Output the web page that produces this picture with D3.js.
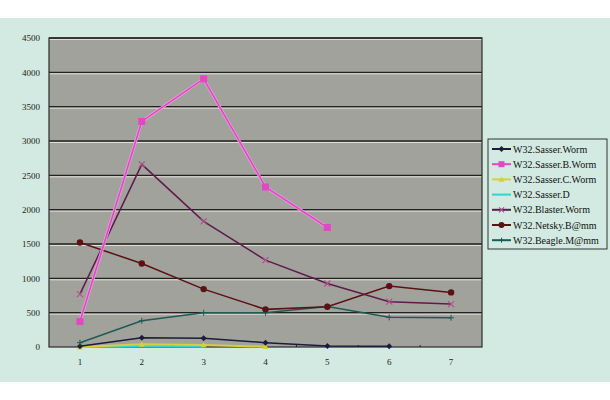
<!DOCTYPE html>
<html><head><meta charset="utf-8">
<script src="https://cdn.jsdelivr.net/npm/d3@7"></script>
<style>
html,body{margin:0;padding:0;background:#fff;}
svg{display:block;}
text{font-family:"Liberation Serif","DejaVu Serif",serif;}
</style></head>
<body>
<svg id="c" width="610" height="400"></svg>
<script>
const categories = ["1","2","3","4","5","6","7"];
const yTicks = [0,500,1000,1500,2000,2500,3000,3500,4000,4500];
const seriesNames = ["W32.Sasser.Worm","W32.Sasser.B.Worm","W32.Sasser.C.Worm","W32.Sasser.D","W32.Blaster.Worm","W32.Netsky.B@mm","W32.Beagle.M@mm"];
const sasserWorm  = [10, 135, 126, 63, 15, 10, null];
const sasserB     = [370, 3285, 3905, 2330, 1740, null, null];
const sasserC     = [0, 40, 30, 5, null, null, null];
const sasserD     = [0, 10, 8, null, null, null, null];
const blaster     = [770, 2660, 1830, 1265, 925, 660, 625];
const netsky      = [1522, 1216, 843, 548, 586, 887, 795];
const beagle      = [63, 382, 499, 499, 590, 432, 426];
const seriesValues = [sasserWorm, sasserB, sasserC, sasserD, blaster, netsky, beagle];
const colors  = ["#1c1c3c","#e048c4","#d6cf3e","#36d2cc","#5c1c4c","#5a1212","#1c5c52"];
const markers = ["diamond","square","triangle","none","x","circle","plus"];

const svg = d3.select("#c");
svg.append("rect").attr("x",0).attr("y",18).attr("width",610).attr("height",364).attr("fill","#d2eae1");

const m = {l:49, r:482, t:38, b:347};
const x = d3.scaleBand().domain(categories).range([m.l, m.r]);
const y = d3.scaleLinear().domain([0,4500]).range([m.b, m.t]);

svg.append("rect").attr("x",m.l).attr("y",m.t).attr("width",m.r-m.l).attr("height",m.b-m.t)
  .attr("fill","#a2a29c");

const g = svg.append("g");
yTicks.forEach(t=>{
  if(t===0) return;
  g.append("line").attr("x1",m.l).attr("x2",m.r).attr("y1",y(t)+1.5).attr("y2",y(t)+1.5)
    .attr("stroke","#e2ddd6").attr("stroke-width",1);
  g.append("line").attr("x1",m.l).attr("x2",m.r).attr("y1",y(t)).attr("y2",y(t))
    .attr("stroke","#222").attr("stroke-width",1.3);
});
svg.append("rect").attr("x",m.l).attr("y",m.t).attr("width",m.r-m.l).attr("height",m.b-m.t)
  .attr("fill","none").attr("stroke","#2a2a2a").attr("stroke-width",1.2);

const yAxis = d3.axisLeft(y).tickValues(yTicks).tickFormat(d3.format("d")).tickSize(0).tickPadding(9);
const ya = svg.append("g").attr("transform",`translate(${m.l},0)`).call(yAxis);
ya.select(".domain").remove();
ya.selectAll("text").attr("font-size",9).attr("fill","#222").attr("font-family","Liberation Serif, serif");
const xAxis = d3.axisBottom(x).tickSize(0).tickPadding(12);
const xa = svg.append("g").attr("transform",`translate(0,${m.b})`).call(xAxis);
xa.select(".domain").remove();
xa.selectAll("text").attr("font-size",9).attr("fill","#222").attr("font-family","Liberation Serif, serif");
categories.forEach((c,i)=>{ if(i>0){
  svg.append("line").attr("x1",x(c)).attr("x2",x(c)).attr("y1",m.b).attr("y2",m.b-2).attr("stroke","#222");
}});

function drawMarker(sel, type, cx, cy, color, s){
  if(type==="diamond"){
    sel.append("path").attr("d",`M${cx},${cy-s}L${cx+s},${cy}L${cx},${cy+s}L${cx-s},${cy}Z`).attr("fill",color);
  } else if(type==="square"){
    sel.append("rect").attr("x",cx-s).attr("y",cy-s).attr("width",2*s).attr("height",2*s).attr("fill",color);
  } else if(type==="triangle"){
    sel.append("path").attr("d",`M${cx},${cy-s}L${cx+s},${cy+s*0.8}L${cx-s},${cy+s*0.8}Z`).attr("fill",color);
  } else if(type==="circle"){
    sel.append("circle").attr("cx",cx).attr("cy",cy).attr("r",s).attr("fill",color);
  } else if(type==="x"){
    sel.append("path").attr("d",`M${cx-s},${cy-s}L${cx+s},${cy+s}M${cx-s},${cy+s}L${cx+s},${cy-s}`).attr("stroke","#b0508a").attr("stroke-width",1.2);
  } else if(type==="plus"){
    sel.append("path").attr("d",`M${cx-s},${cy}L${cx+s},${cy}M${cx},${cy-s}L${cx},${cy+s}`).attr("stroke",color).attr("stroke-width",1);
  }
}

const line = d3.line().defined(d=>d.v!==null).x(d=>x(d.c)+x.bandwidth()/2).y(d=>y(d.v));
const drawOrder = [3,2,0,6,5,4,1];
drawOrder.forEach(i=>{
  const data = categories.map((c,j)=>({c, v: seriesValues[i][j]}));
  const gs = svg.append("g");
  if(i===1){
    gs.append("path").attr("d",line(data)).attr("fill","none").attr("stroke","#f0a0e4").attr("stroke-width",3);
  }
  gs.append("path").attr("d",line(data)).attr("fill","none").attr("stroke",colors[i])
    .attr("stroke-width", i===1?1.6:(i===3||i===2?2:1.5));
  data.filter(d=>d.v!==null).forEach(d=>{
    const s = markers[i]==="square"?3.5:(markers[i]==="circle"?3.2:3);
    drawMarker(gs, markers[i], x(d.c)+x.bandwidth()/2, y(d.v), colors[i], s);
  });
});

const lg = svg.append("g");
lg.append("rect").attr("x",488).attr("y",139).attr("width",119).attr("height",110)
  .attr("fill","#d2eae1").attr("stroke","#333").attr("stroke-width",1);
seriesNames.forEach((n,i)=>{
  const ly = 149 + i*15.2;
  lg.append("line").attr("x1",492).attr("x2",511).attr("y1",ly).attr("y2",ly)
    .attr("stroke",colors[i]).attr("stroke-width",2);
  drawMarker(lg, markers[i], 501.5, ly, colors[i], markers[i]==="x"||markers[i]==="plus"?2.5:3);
  lg.append("text").attr("x",513).attr("y",ly+3.5).attr("font-size",10).attr("fill","#111").text(n);
});
</script>
</body></html>
